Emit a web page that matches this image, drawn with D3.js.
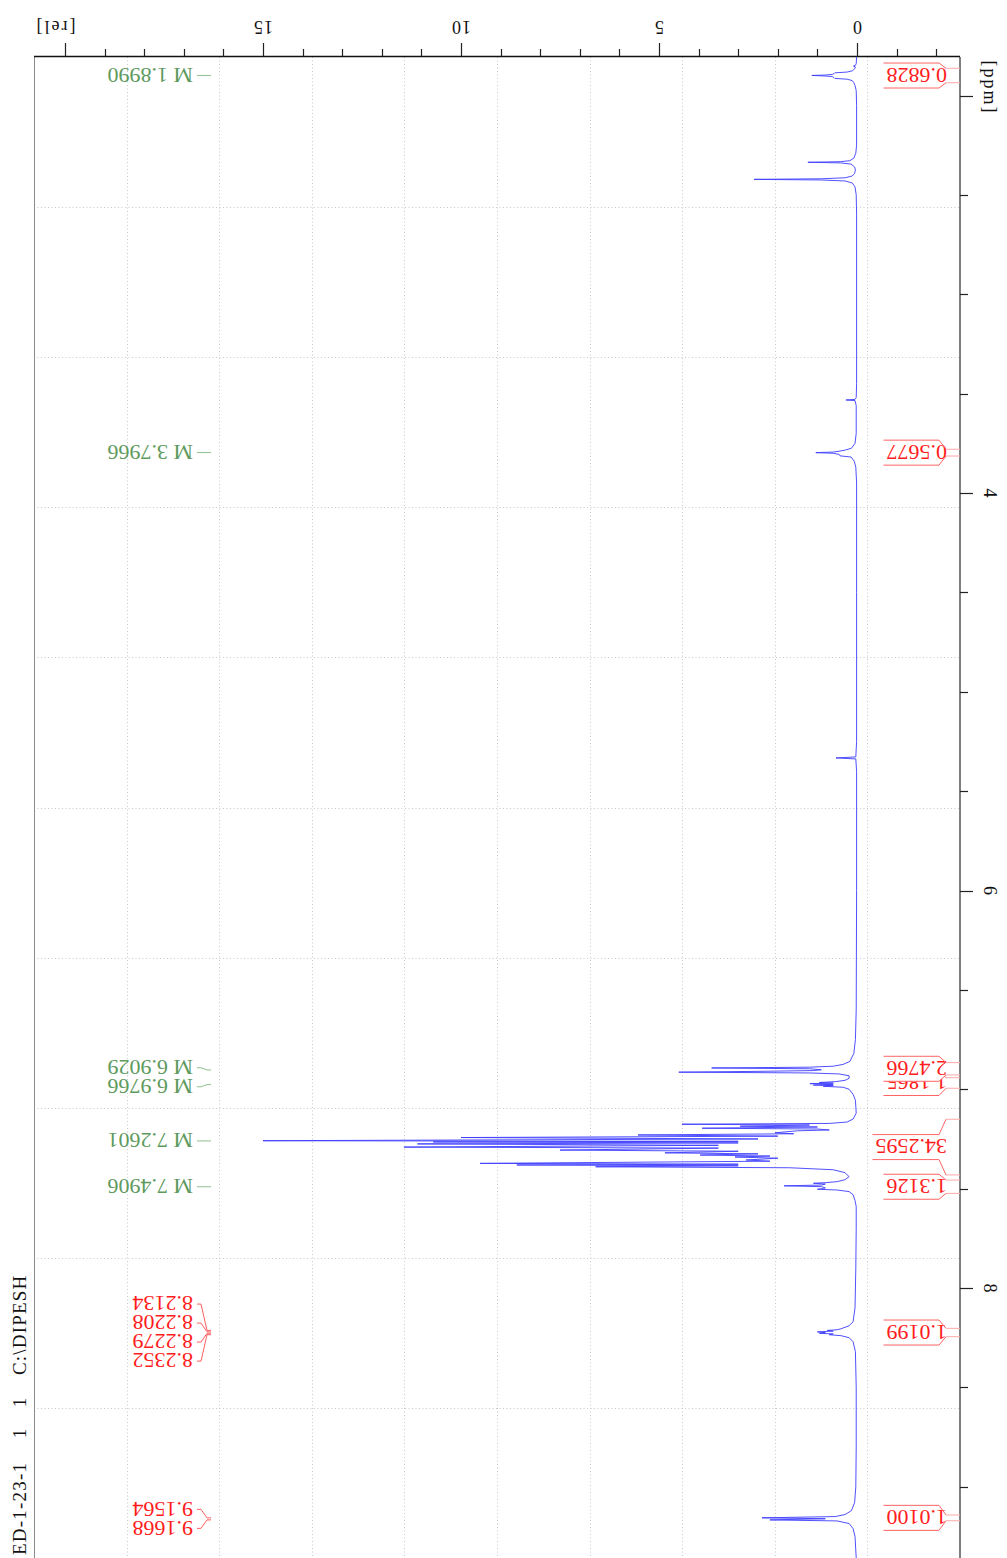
<!DOCTYPE html>
<html>
<head>
<meta charset="utf-8">
<script src="https://cdn.jsdelivr.net/npm/d3@7/dist/d3.min.js"></script>
<style>
  html, body { margin: 0; padding: 0; background: #fff; }
  svg { display: block; }
  text { font-family: "Liberation Serif", "Times New Roman", serif; }
</style>
</head>
<body>
<svg id="chart" width="1007" height="1558"></svg>
<script>
// 1H NMR trace, [chemical shift (ppm), relative intensity]
const spectrum = [
  [1.806,0.01],[1.840,0.02],[1.848,0.04],[1.852,0.09],[1.856,0.04],[1.866,0.06],[1.876,0.12],[1.882,0.25],
  [1.886,0.56],[1.890,0.58],[1.894,0.62],[1.897,0.80],[1.899,1.14],[1.902,0.80],[1.905,0.62],[1.910,0.58],
  [1.914,0.56],[1.918,0.25],[1.925,0.12],[1.935,0.08],[1.950,0.05],[1.975,0.02],[2.050,0.01],
  [2.250,0.01],[2.290,0.03],[2.315,0.08],[2.328,0.18],[2.333,0.42],[2.336,1.24],[2.339,0.42],[2.345,0.15],
  [2.360,0.06],[2.375,0.04],[2.392,0.06],[2.405,0.12],[2.414,0.30],[2.419,0.90],[2.422,2.60],[2.425,0.90],
  [2.430,0.30],[2.440,0.12],[2.460,0.05],[2.500,0.02],[2.600,0.01],
  [3.450,0.01],[3.520,0.02],[3.529,0.05],[3.532,0.28],[3.535,0.05],[3.560,0.02],
  [3.700,0.02],[3.750,0.05],[3.775,0.14],[3.784,0.30],[3.789,0.43],[3.794,0.60],[3.797,1.04],[3.800,0.60],
  [3.806,0.45],[3.813,0.43],[3.819,0.15],[3.840,0.07],[3.870,0.03],[3.950,0.01],[4.500,0.01],
  [5.250,0.01],[5.328,0.03],[5.333,0.53],[5.338,0.03],[5.400,0.01],[6.000,0.01],
  [6.600,0.02],[6.750,0.04],[6.820,0.08],[6.860,0.18],[6.875,0.35],[6.884,0.60],[6.889,1.20],[6.893,3.67],
  [6.897,1.20],[6.902,0.90],[6.906,1.10],[6.910,2.50],[6.914,4.50],[6.918,1.20],[6.923,0.45],[6.932,0.20],
  [6.945,0.20],[6.955,0.30],[6.962,0.55],[6.966,0.95],[6.969,0.60],[6.972,1.19],[6.975,0.60],[6.979,1.10],
  [6.982,0.60],[6.985,0.85],[6.990,0.35],[7.000,0.20],[7.025,0.10],[7.055,0.04],[7.120,0.02],[7.150,0.10],
  [7.165,0.25],[7.172,0.70],[7.176,4.42],[7.180,1.20],[7.186,2.95],[7.190,1.00],[7.196,3.91],[7.200,1.00],
  [7.205,0.70],[7.209,1.50],[7.219,2.07],[7.224,1.60],[7.230,5.53],[7.236,2.00],[7.243,10.0],[7.250,2.50],
  [7.259,15.0],[7.262,3.00],[7.265,10.7],[7.270,3.00],[7.275,11.1],[7.282,3.50],[7.291,11.44],[7.296,3.50],
  [7.306,7.50],[7.312,3.00],[7.320,4.85],[7.325,2.50],[7.331,3.96],[7.336,2.20],[7.341,3.08],[7.347,2.00],
  [7.356,2.80],[7.362,2.20],[7.373,9.52],[7.377,3.00],[7.381,8.59],[7.385,3.00],[7.390,6.60],[7.395,1.70],
  [7.405,0.60],[7.420,0.30],[7.440,0.20],[7.455,0.30],[7.465,0.50],[7.470,0.80],[7.473,1.10],[7.477,0.80],
  [7.482,0.90],[7.486,1.84],[7.490,0.90],[7.496,0.80],[7.500,0.85],[7.503,1.00],[7.507,0.50],[7.515,0.20],
  [7.530,0.10],[7.560,0.05],[7.590,0.02],[7.700,0.02],[7.900,0.03],
  [8.100,0.05],[8.170,0.10],[8.190,0.20],[8.205,0.40],[8.210,0.50],[8.2134,0.75],[8.217,0.60],[8.2208,1.00],
  [8.224,0.80],[8.2279,0.95],[8.231,0.60],[8.2352,0.70],[8.240,0.40],[8.250,0.20],[8.270,0.10],[8.320,0.04],
  [8.500,0.02],[8.800,0.02],[9.000,0.03],[9.080,0.06],[9.120,0.14],[9.140,0.30],[9.150,0.55],[9.1564,2.40],
  [9.161,0.80],[9.1668,2.20],[9.172,0.50],[9.185,0.20],[9.210,0.10],[9.250,0.05],[9.3585,0.02]
];

// multiplet centres (green labels)
const multipletShifts = [1.8990, 3.7966, 6.9029, 6.9766, 7.2601, 7.4906];
// individual peak picks (red labels)
const peakShifts = [8.2134, 8.2208, 8.2279, 8.2352, 9.1564, 9.1668];
// integrals: value, from ppm, to ppm
const integralValues = [0.6828, 0.5677, 2.4766, 1.1865, 34.2595, 1.3126, 1.0199, 1.0100];
const integralFrom   = [1.863, 3.780, 6.866, 6.942, 7.151, 7.457, 8.203, 9.142];
const integralTo     = [1.936, 3.814, 6.928, 6.995, 7.431, 7.524, 8.245, 9.171];

const ppmMinorTicks = d3.range(2, 9.5, 0.5);
const ppmMajorTicks = [2, 4, 6, 8];
const ppmTickLabels = ["[ppm]", "4", "6", "8"];
const relMinorTicks = d3.range(-2, 21, 1);
const relMajorTicks = [0, 5, 10, 15, 20];
const relTickLabels = ["0", "5", "10", "15", "[rel]"];
const titleParts = ["ED-1-23-1", "1", "1", "C:\\DIPESH"];

// ---- layout ----
const plot = { left: 34, right: 960, top: 57, bottom: 1558 };

const svg = d3.select("#chart");

const y = d3.scaleLinear().domain([4, 8]).range([493, 1288]);
const x = d3.scaleLinear().domain([0, 15]).range([857, 263]);

// grid (plot divided in tenths)
const grid = svg.append("g").attr("stroke", "#c9c9c9").attr("stroke-width", 1)
  .attr("stroke-dasharray", "1,2.5");
const pw = plot.right - plot.left, ph = plot.bottom - plot.top;
d3.range(1, 10).forEach(k => {
  const gx = Math.round(plot.left + k * pw / 10) + 0.5;
  grid.append("line").attr("x1", gx).attr("x2", gx).attr("y1", plot.top).attr("y2", plot.bottom);
  const gy = Math.round(plot.top + k * ph / 10) + 0.5;
  grid.append("line").attr("x1", plot.left).attr("x2", plot.right).attr("y1", gy).attr("y2", gy);
});

// frame
svg.append("line").attr("x1", plot.left + 0.5).attr("x2", plot.left + 0.5)
  .attr("y1", plot.top).attr("y2", plot.bottom).attr("stroke", "#8a8a8a").attr("stroke-width", 1);
svg.append("line").attr("x1", plot.right).attr("x2", plot.right)
  .attr("y1", plot.top).attr("y2", plot.bottom).attr("stroke", "#555").attr("stroke-width", 1.5);
svg.append("line").attr("x1", plot.left).attr("x2", plot.right)
  .attr("y1", plot.top - 0.5).attr("y2", plot.top - 0.5).attr("stroke", "#111").attr("stroke-width", 1.3);

// intensity axis (top), labels upside down
const relAxis = svg.append("g");
relMinorTicks.forEach(v => {
  const major = relMajorTicks.includes(v);
  relAxis.append("line").attr("x1", Math.round(x(v)) + 0.5).attr("x2", Math.round(x(v)) + 0.5)
    .attr("y1", plot.top - 0.5).attr("y2", major ? 43 : 49)
    .attr("stroke", "#222").attr("stroke-width", 1.2);
});
relMajorTicks.forEach((v, i) => {
  const last = i === relMajorTicks.length - 1;
  const lx = last ? x(v) - 10 : x(v);
  relAxis.append("text")
    .attr("transform", `translate(${lx},27) rotate(180)`)
    .attr("text-anchor", "middle").attr("dy", "0.35em")
    .attr("font-size", 18).attr("fill", "#111")
    .attr("letter-spacing", last ? 2 : 1)
    .text(relTickLabels[i]);
});

// chemical-shift axis (right), labels turned clockwise
const ppmAxis = svg.append("g");
ppmMinorTicks.forEach(v => {
  const major = ppmMajorTicks.includes(v);
  ppmAxis.append("line").attr("x1", plot.right).attr("x2", major ? 973 : 968)
    .attr("y1", Math.round(y(v)) + 0.5).attr("y2", Math.round(y(v)) + 0.5)
    .attr("stroke", "#222").attr("stroke-width", 1.2);
});
ppmMajorTicks.forEach((v, i) => {
  const ly = i === 0 ? y(v) - 8 : y(v);
  ppmAxis.append("text")
    .attr("transform", `translate(990,${ly}) rotate(90)`)
    .attr("text-anchor", "middle").attr("dy", "0.35em")
    .attr("font-size", 18).attr("fill", "#111")
    .attr("letter-spacing", i === 0 ? 2 : 0)
    .text(ppmTickLabels[i]);
});

// spectrum trace
const line = d3.line().x(d => x(d[1])).y(d => y(d[0]));
svg.append("path").datum(spectrum)
  .attr("d", line).attr("fill", "none")
  .attr("stroke", "#3d3dff").attr("stroke-width", 1).attr("stroke-opacity", 0.9);

// spread labels so they keep a minimum gap
function spread(ys, gap) {
  let groups = ys.map((v, i) => ({ idx: [i], vals: [v], c: v }));
  let changed = true;
  while (changed) {
    changed = false;
    for (let i = 0; i < groups.length - 1; i++) {
      const a = groups[i], b = groups[i + 1];
      const aEnd = a.c + (a.vals.length - 1) * gap / 2;
      const bStart = b.c - (b.vals.length - 1) * gap / 2;
      if (bStart - aEnd < gap) {
        const vals = a.vals.concat(b.vals);
        groups.splice(i, 2, { idx: a.idx.concat(b.idx), vals, c: d3.mean(vals) });
        changed = true;
        break;
      }
    }
  }
  const out = [];
  groups.forEach(g => g.idx.forEach((id, k) => {
    out[id] = g.c + (k - (g.idx.length - 1) / 2) * gap;
  }));
  return out;
}

function drawPeakLabels(shifts, texts, color, lineColor) {
  const g = svg.append("g");
  const py = shifts.map(s => y(s));
  const ly = spread(py, 19);
  shifts.forEach((s, i) => {
    g.append("polyline")
      .attr("points", `197,${ly[i]} 201,${ly[i]} 207,${py[i]} 211,${py[i]}`)
      .attr("fill", "none").attr("stroke", lineColor).attr("stroke-width", 1);
    g.append("text")
      .attr("transform", `translate(193,${ly[i]}) rotate(180)`)
      .attr("text-anchor", "start").attr("dy", "0.35em")
      .attr("font-size", 22).attr("fill", color)
      .text(texts[i]);
  });
}

drawPeakLabels(multipletShifts, multipletShifts.map(s => "M " + s.toFixed(4)), "#5e9a5e", "#8fbf8f");
drawPeakLabels(peakShifts, peakShifts.map(s => s.toFixed(4)), "#ff1c1c", "#ff6060");

// integrals: label boxes pointing to the integration limits
const intG = svg.append("g");
const order = d3.range(integralValues.length).sort((a, b) => integralFrom[b] - integralFrom[a]);
order.forEach(i => {
  const yA = y(integralFrom[i]), yB = y(integralTo[i]);
  const cy = (yA + yB) / 2, top = cy - 12.5, bot = cy + 12.5;
  const g = intG.append("g");
  const t = g.append("text")
    .attr("transform", `translate(947,${cy}) rotate(180)`)
    .attr("text-anchor", "start").attr("dy", "0.35em")
    .attr("font-size", 22).attr("fill", "#ff1c1c")
    .text(integralValues[i].toFixed(4));
  const len = t.node().getComputedTextLength();
  const L = 947 - len - 3;
  g.insert("polygon", "text")
    .attr("points", `${L},${top} 939,${top} 946,${yA} 946,${yB} 939,${bot} ${L},${bot}`)
    .attr("fill", "#fff");
  g.append("polyline").attr("points", `${L},${top} 939,${top} 946,${yA}`)
    .attr("fill", "none").attr("stroke", "#ff6464").attr("stroke-width", 1);
  g.append("polyline").attr("points", `${L},${bot} 939,${bot} 946,${yB}`)
    .attr("fill", "none").attr("stroke", "#ff6464").attr("stroke-width", 1);
  g.append("line").attr("x1", 946).attr("x2", plot.right).attr("y1", yA).attr("y2", yA)
    .attr("stroke", "#ffa8a8").attr("stroke-width", 1);
  g.append("line").attr("x1", 946).attr("x2", plot.right).attr("y1", yB).attr("y2", yB)
    .attr("stroke", "#ffa8a8").attr("stroke-width", 1);
});

// data-set title, reading upwards along the left margin
const titlePos = [1555, 1433, 1402, 1375];
const titleAnchor = ["start", "middle", "middle", "start"];
titleParts.forEach((s, i) => {
  svg.append("text")
    .attr("transform", `translate(20,${titlePos[i]}) rotate(-90)`)
    .attr("text-anchor", titleAnchor[i]).attr("dy", "0.33em")
    .attr("font-size", 19).attr("fill", "#111").attr("letter-spacing", 1.2)
    .text(s);
});
</script>
</body>
</html>
